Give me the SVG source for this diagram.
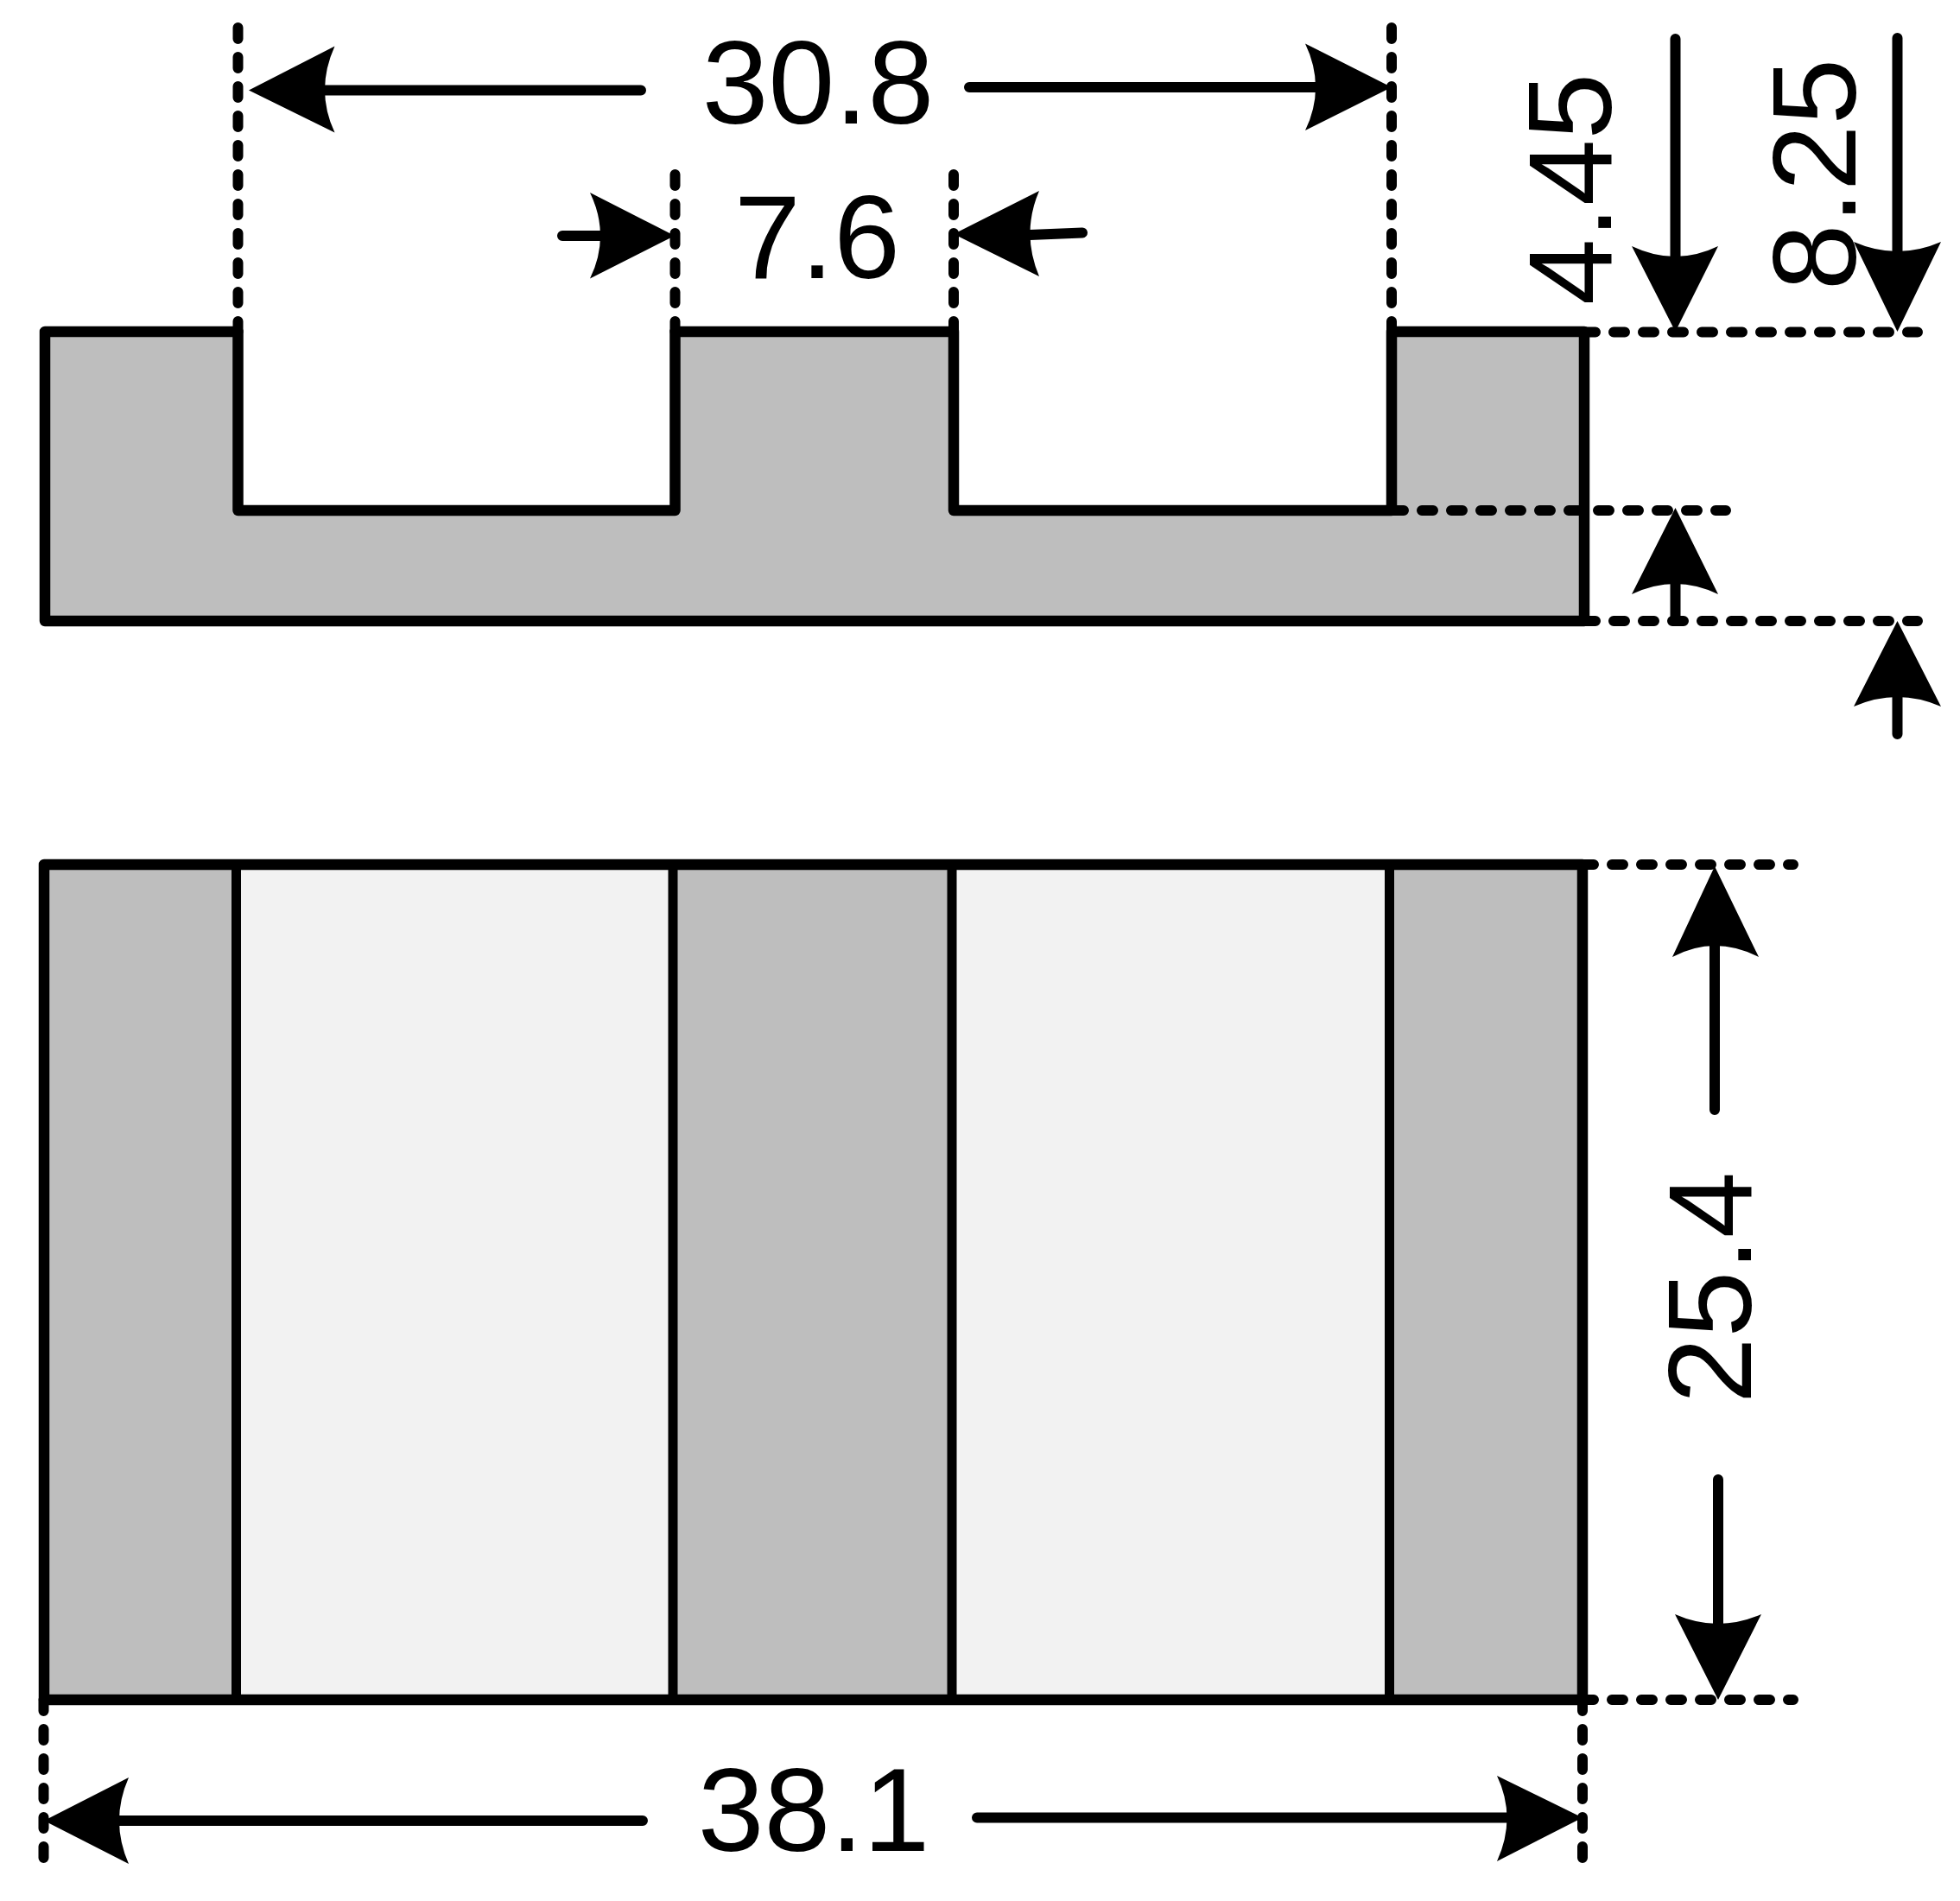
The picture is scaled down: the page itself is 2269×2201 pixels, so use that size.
<svg xmlns="http://www.w3.org/2000/svg" width="2269" height="2201" viewBox="0 0 2269 2201">
<style>
.bg{fill:#fff}
.solid{fill:#bebebe}
.light{fill:#f2f2f2}
.o{fill:none;stroke:#000;stroke-width:12.5;stroke-linecap:round;stroke-linejoin:round}
.v{fill:none;stroke:#000;stroke-width:11;stroke-linecap:round}
.d{fill:none;stroke:#000;stroke-width:12;stroke-linecap:round;stroke-dasharray:13 21}
.l{fill:none;stroke:#000;stroke-width:12;stroke-linecap:round}
.h{fill:#000;stroke:none}
text{font-family:"Liberation Sans",Arial,sans-serif;font-size:138px;fill:#000;text-anchor:middle}
</style>
<rect class="bg" width="2269" height="2201"/>
<g id="section-view">
<path class="solid" d="M52 384H275.500V591H781.500V384H1104V591H1611V384H1834V719H52Z"/>
<path class="o" d="M275.500 384H52V719H1834V384H1611V591H1104V384H781.500V591H275.500V384"/>
</g>
<g id="plan-view">
<rect class="solid" x="51" y="1001" width="1781" height="967"/>
<rect class="light" x="273.500" y="1001" width="505.500" height="967"/>
<rect class="light" x="1102" y="1001" width="506.500" height="967"/>
<path class="o" d="M51 1001H1832V1968H51Z"/>
<path class="v" d="M273.500 1001V1968M779 1001V1968M1102 1001V1968M1608.500 1001V1968"/>
</g>
<g id="connectors">
<path class="d" d="M275.500 32V384M1611 32V384M781.500 202V384M1104 202V384M50.500 1968V2152M1832 1968V2152"/>
<path class="d" d="M1834 384.500H2220M1612 591H1998M1834 719H2220M1832 1001H2076M1832 1968H2076"/>
<path class="l" d="M376 104.500H742M1122 101H1523M651 273H695M1192 272L1253 269.500M1939.500 45V297M2196.500 44V291M1939.500 676V719M2196.500 807V850M138 2108H744M1131 2104.500H1745M1985 1095V1285M1989 1713V1880"/>
<path class="h" d="M288 104.500L387.500 53.500Q364.500 104.500 387.500 153.500Z"/>
<path class="h" d="M1611 101L1511 50.500Q1535 101 1511 151Z"/>
<path class="h" d="M781 273L683 223Q707 273 683 322.500Z"/>
<path class="h" d="M1104 271L1203 221Q1182 270 1203 320Z"/>
<path class="h" d="M1939.500 384L1889 285Q1939.500 309 1989 285Z"/>
<path class="h" d="M2196.500 384L2146 280Q2196.500 302 2247 280Z"/>
<path class="h" d="M1939.500 588L1889 688Q1939.500 664 1989 688Z"/>
<path class="h" d="M2196.500 719L2146 818Q2196.500 796 2247 818Z"/>
<path class="h" d="M51 2108L149 2058Q127 2108 149 2158Z"/>
<path class="h" d="M1832 2104.500L1733 2056Q1756 2104.500 1733 2155Z"/>
<path class="h" d="M1985 1003L1936 1108Q1985 1082 2036 1108Z"/>
<path class="h" d="M1989 1968L1939 1869Q1989 1891 2039 1869Z"/>
</g>
<g id="labels">
<text x="947" y="143">30.8</text>
<text x="946" y="322">7.6</text>
<text x="942" y="2143">38.1</text>
<text transform="translate(1865 219) rotate(-90)">4.45</text>
<text transform="translate(2148 202) rotate(-90)">8.25</text>
<text transform="translate(2027 1491) rotate(-90)">25.4</text>
</g>
</svg>
